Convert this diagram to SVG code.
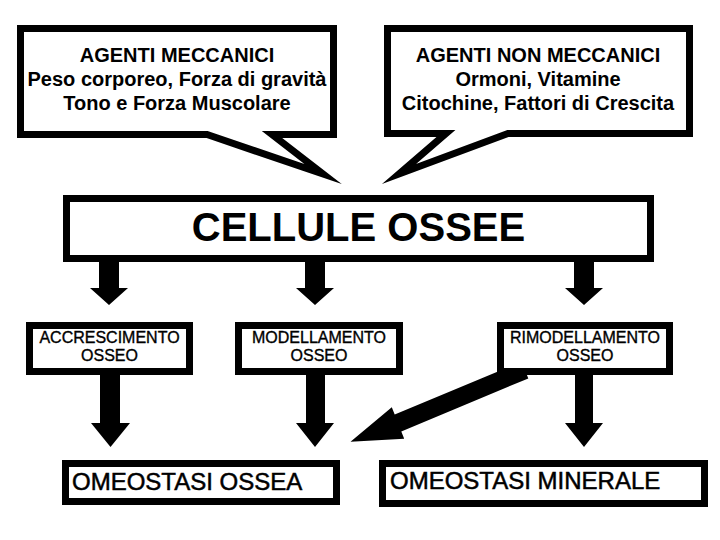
<svg xmlns="http://www.w3.org/2000/svg" width="720" height="540" viewBox="0 0 720 540">
<style>
.box{fill:#fff;stroke:#000;stroke-width:7;stroke-miterlimit:30}
.arr{fill:#000}
text{font-family:"Liberation Sans",Arial,sans-serif;fill:#000;text-anchor:middle}
.t20{font-size:20px;font-weight:bold}
.t16{font-size:16px;stroke:#000;stroke-width:0.35}
.t24{font-size:24px;text-anchor:start;stroke:#000;stroke-width:0.5}
.big{font-size:40px;font-weight:bold}
</style>
<rect width="720" height="540" fill="#fff"/>
<g id="connectors">
<polygon class="arr" points="99,258 119,258 119,288 128,288 109,305 90,288 99,288"/>
<polygon class="arr" points="305,258 325,258 325,288 334,288 315,305 296,288 305,288"/>
<polygon class="arr" points="574,258 594,258 594,288 603,288 584,305 565,288 574,288"/>
<polygon class="arr" points="100,371 120,371 120,423 130,423 110.5,447 91,423 100,423"/>
<polygon class="arr" points="306,371 325,371 325,423 334,423 315,447 296,423 306,423"/>
<polygon class="arr" points="575,371 593,371 593,423 603,423 584,447 565,423 575,423"/>
<polygon class="arr" points="521.7,361.6 394.7,414.6 391.8,407.2 350.5,441.7 404.2,438.8 401.3,431.4 528.3,378.4"/>
</g>
<g id="agenti-meccanici">
<path class="box" d="M20.5,28.5 H333.5 V134.5 H272 L323,174 L207,134.5 H20.5 Z"/>
<text class="t20" x="177" y="62">AGENTI MECCANICI</text>
<text class="t20" x="177" y="86">Peso corporeo, Forza di gravità</text>
<text class="t20" x="177" y="110">Tono e Forza Muscolare</text>
</g>
<g id="agenti-non-meccanici">
<path class="box" d="M387.5,28.5 H689.5 V133.5 H508 L399,174 L446,133.5 H387.5 Z"/>
<text class="t20" x="538" y="62">AGENTI NON MECCANICI</text>
<text class="t20" x="538" y="86">Ormoni, Vitamine</text>
<text class="t20" x="538" y="110">Citochine, Fattori di Crescita</text>
</g>
<g id="cellule-ossee">
<rect class="box" x="66.5" y="198.5" width="584" height="60"/>
<text class="big" x="358.5" y="241">CELLULE OSSEE</text>
</g>
<g id="accrescimento">
<rect class="box" x="29.5" y="325.5" width="160" height="46"/>
<text class="t16" x="109.5" y="343">ACCRESCIMENTO</text>
<text class="t16" x="109.5" y="361">OSSEO</text>
</g>
<g id="modellamento">
<rect class="box" x="238.5" y="325.5" width="161" height="46"/>
<text class="t16" x="319" y="343">MODELLAMENTO</text>
<text class="t16" x="319" y="361">OSSEO</text>
</g>
<g id="rimodellamento">
<rect class="box" x="500.5" y="325.5" width="169" height="46"/>
<text class="t16" x="585" y="343">RIMODELLAMENTO</text>
<text class="t16" x="585" y="361">OSSEO</text>
</g>
<g id="omeostasi-ossea">
<rect class="box" x="65.5" y="463.5" width="271" height="38"/>
<text class="t24" x="72" y="490">OMEOSTASI OSSEA</text>
</g>
<g id="omeostasi-minerale">
<rect class="box" x="382.5" y="463.5" width="322" height="40"/>
<text class="t24" x="390" y="489">OMEOSTASI MINERALE</text>
</g>
</svg>
